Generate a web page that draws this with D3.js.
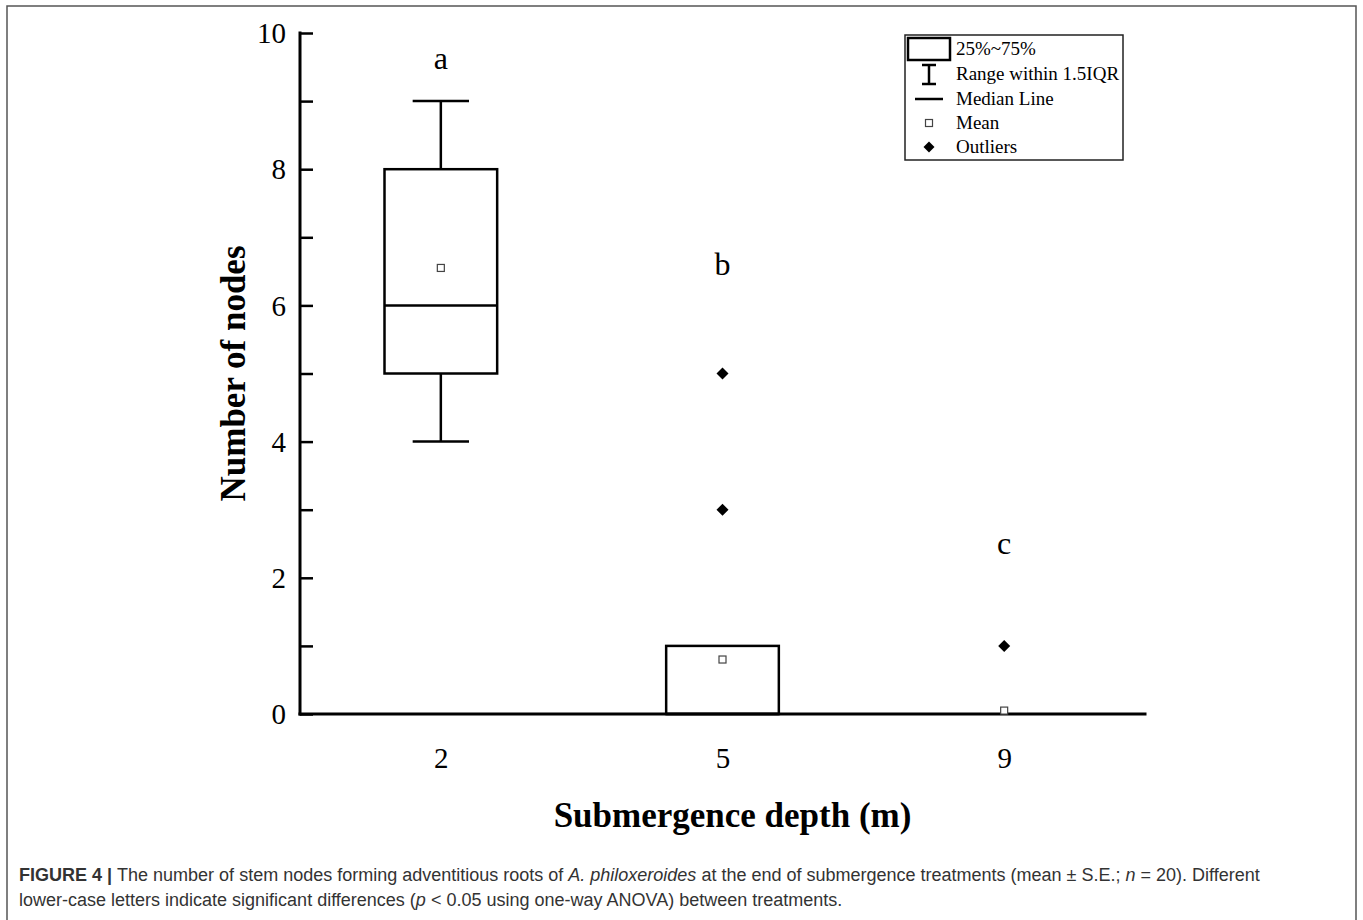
<!DOCTYPE html>
<html>
<head>
<meta charset="utf-8">
<script src="https://cdn.jsdelivr.net/npm/d3@7"></script>
<style>
  html, body { margin: 0; padding: 0; background: #fff; }
  svg { display: block; }
</style>
</head>
<body>
<script>
// ---- data ----
const categories = ["2", "5", "9"];
const q1 = [5, 0, 0];
const median = [6, 0, 0];
const q3 = [8, 1, 0];
const whiskerLow = [4, 0, 0];
const whiskerHigh = [9, 1, 0];
const means = [6.55, 0.8, 0.05];
const outliers = [[], [5, 3], [1]];
const letters = ["a", "b", "c"];
const letterValues = [9.62, 6.6, 2.5];
const yTicks = [0, 2, 4, 6, 8, 10];
const yMinorTicks = [1, 3, 5, 7, 9];
const legendItems = ["25%~75%", "Range within 1.5IQR", "Median Line", "Mean", "Outliers"];

(function () {
const W = 1363, H = 920;
const svg = d3.select("body").append("svg").attr("width", W).attr("height", H);

// outer frame
svg.append("rect").attr("x", 7).attr("y", 6).attr("width", 1349).attr("height", 930)
  .attr("fill", "none").attr("stroke", "#555").attr("stroke-width", 1.5);

const pLeft = 300, pRight = 1145, pTop = 33, pBottom = 714;
const x = d3.scalePoint().domain(categories).range([pLeft, pRight]).padding(0.5);
const y = d3.scaleLinear().domain([0, 10]).range([pBottom, pTop]);
const step = x.step();
const boxW = step * 0.4;
const capW = step * 0.2;

const serif = "'Liberation Serif', 'Times New Roman', serif";

const g = svg.append("g");
g.append("line").attr("x1", pLeft).attr("x2", pLeft).attr("y1", y(10)).attr("y2", y(0))
  .attr("stroke", "#000").attr("stroke-width", 3).attr("stroke-linecap", "square");
g.append("line").attr("x1", pLeft).attr("x2", pRight).attr("y1", y(0)).attr("y2", y(0))
  .attr("stroke", "#000").attr("stroke-width", 3).attr("stroke-linecap", "square");

// y ticks (inward)
const yAxis = d3.axisRight(y).tickValues(yTicks.concat(yMinorTicks)).tickSize(13).tickFormat("");
const ya = svg.append("g").attr("transform", `translate(${pLeft},0)`).call(yAxis);
ya.select(".domain").remove();
ya.selectAll(".tick line").attr("stroke", "#000").attr("stroke-width", 2.5);

// y tick labels
svg.append("g").selectAll("text").data(yTicks).join("text")
  .attr("x", pLeft - 14).attr("y", d => y(d)).attr("dy", "0.35em")
  .attr("text-anchor", "end").attr("font-family", serif).attr("font-size", 29)
  .text(d => d);

// x tick labels
const xa = svg.append("g").attr("transform", `translate(0,${pBottom})`)
  .call(d3.axisBottom(x).tickSize(0).tickPadding(0));
xa.select(".domain").remove();
xa.selectAll(".tick text").attr("y", 54).attr("dy", 0)
  .attr("font-family", serif).attr("font-size", 29).attr("fill", "#000");

// axis titles
svg.append("text").attr("x", (pLeft + pRight) / 2 + 10).attr("y", 827)
  .attr("text-anchor", "middle").attr("font-family", serif).attr("font-weight", "bold")
  .attr("font-size", 35).text("Submergence depth (m)");
svg.append("text").attr("transform", `translate(245,${(pTop + pBottom) / 2}) rotate(-90)`)
  .attr("text-anchor", "middle").attr("font-family", serif).attr("font-weight", "bold")
  .attr("font-size", 35).text("Number of nodes");

const data = categories.map((c, i) => ({
  c, q1: q1[i], med: median[i], q3: q3[i], lo: whiskerLow[i], hi: whiskerHigh[i],
  mean: means[i], out: outliers[i], letter: letters[i], lv: letterValues[i]
}));

const boxes = svg.append("g").selectAll("g").data(data).join("g");

boxes.each(function(d) {
  const s = d3.select(this);
  const cx = x(d.c);
  if (d.hi > d.q3) {
    s.append("line").attr("x1", cx).attr("x2", cx).attr("y1", y(d.q3)).attr("y2", y(d.hi))
      .attr("stroke", "#000").attr("stroke-width", 2.5);
    s.append("line").attr("x1", cx - capW / 2).attr("x2", cx + capW / 2).attr("y1", y(d.hi)).attr("y2", y(d.hi))
      .attr("stroke", "#000").attr("stroke-width", 2.5);
  }
  if (d.lo < d.q1) {
    s.append("line").attr("x1", cx).attr("x2", cx).attr("y1", y(d.q1)).attr("y2", y(d.lo))
      .attr("stroke", "#000").attr("stroke-width", 2.5);
    s.append("line").attr("x1", cx - capW / 2).attr("x2", cx + capW / 2).attr("y1", y(d.lo)).attr("y2", y(d.lo))
      .attr("stroke", "#000").attr("stroke-width", 2.5);
  }
  if (d.q3 > d.q1) {
    s.append("rect").attr("x", cx - boxW / 2).attr("y", y(d.q3))
      .attr("width", boxW).attr("height", y(d.q1) - y(d.q3))
      .attr("fill", "none").attr("stroke", "#000").attr("stroke-width", 2.5);
    s.append("line").attr("x1", cx - boxW / 2).attr("x2", cx + boxW / 2)
      .attr("y1", y(d.med)).attr("y2", y(d.med))
      .attr("stroke", "#000").attr("stroke-width", 2.5);
  }
  s.append("rect").attr("x", cx - 3.5).attr("y", y(d.mean) - 3.5).attr("width", 7).attr("height", 7)
    .attr("fill", "#fff").attr("stroke", "#444").attr("stroke-width", 1.2);
  s.selectAll("path.out").data(d.out).join("path").attr("class", "out")
    .attr("transform", v => `translate(${cx},${y(v)})`)
    .attr("d", "M0,-6L6,0L0,6L-6,0Z").attr("fill", "#000");
  s.append("text").attr("x", cx).attr("y", y(d.lv)).attr("dy", "0.32em")
    .attr("text-anchor", "middle").attr("font-family", serif).attr("font-size", 32)
    .text(d.letter);
});

// legend
const lg = svg.append("g");
lg.append("rect").attr("x", 905).attr("y", 35).attr("width", 218).attr("height", 125)
  .attr("fill", "#fff").attr("stroke", "#222").attr("stroke-width", 1.5);
const ly = [49, 74, 99, 123, 147];
const sx = 929;
lg.selectAll("text").data(legendItems).join("text")
  .attr("x", 956).attr("y", (d, i) => ly[i]).attr("dy", "0.33em")
  .attr("font-family", serif).attr("font-size", 19).text(d => d);
lg.append("rect").attr("x", 908).attr("y", 38).attr("width", 42).attr("height", 22)
  .attr("fill", "none").attr("stroke", "#000").attr("stroke-width", 2.5);
lg.append("line").attr("x1", sx).attr("x2", sx).attr("y1", 65).attr("y2", 84).attr("stroke", "#000").attr("stroke-width", 2.5);
lg.append("line").attr("x1", sx - 7).attr("x2", sx + 7).attr("y1", 65).attr("y2", 65).attr("stroke", "#000").attr("stroke-width", 2.5);
lg.append("line").attr("x1", sx - 7).attr("x2", sx + 7).attr("y1", 84).attr("y2", 84).attr("stroke", "#000").attr("stroke-width", 2.5);
lg.append("line").attr("x1", 915).attr("x2", 943).attr("y1", ly[2]).attr("y2", ly[2]).attr("stroke", "#000").attr("stroke-width", 2.5);
lg.append("rect").attr("x", sx - 3.5).attr("y", ly[3] - 3.5).attr("width", 7).attr("height", 7)
  .attr("fill", "#fff").attr("stroke", "#444").attr("stroke-width", 1.2);
lg.append("path").attr("transform", `translate(${sx},${ly[4]})`).attr("d", "M0,-5.5L5.5,0L0,5.5L-5.5,0Z").attr("fill", "#000");

// caption
const sans = "'Liberation Sans', Arial, Helvetica, sans-serif";
const cap = svg.append("g").attr("font-family", sans).attr("font-size", 18).attr("fill", "#333");
const t1 = cap.append("text").attr("x", 19).attr("y", 881);
t1.append("tspan").attr("font-weight", "bold").text("FIGURE 4 | ");
t1.append("tspan").text("The number of stem nodes forming adventitious roots of ");
t1.append("tspan").attr("font-style", "italic").text("A. philoxeroides");
t1.append("tspan").text(" at the end of submergence treatments (mean ± S.E.; ");
t1.append("tspan").attr("font-style", "italic").text("n");
t1.append("tspan").text(" = 20). Different");
const t2 = cap.append("text").attr("x", 19).attr("y", 906);
t2.append("tspan").text("lower-case letters indicate significant differences (");
t2.append("tspan").attr("font-style", "italic").text("p");
t2.append("tspan").text(" < 0.05 using one-way ANOVA) between treatments.");
})();
</script>
</body>
</html>
